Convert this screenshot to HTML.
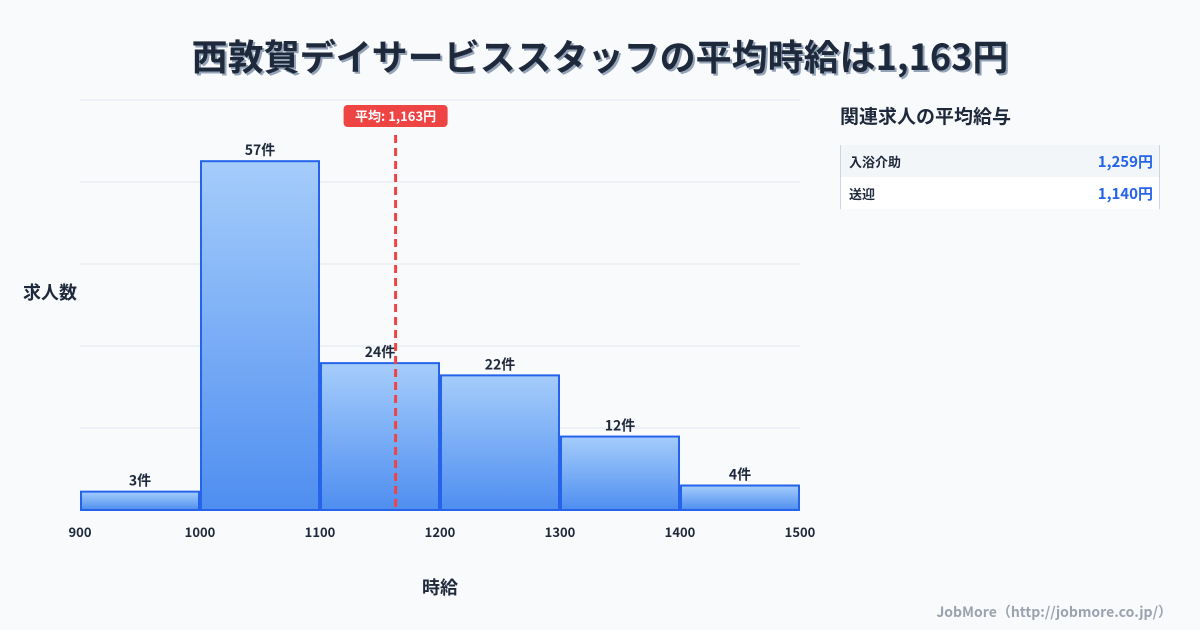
<!DOCTYPE html>
<html><head><meta charset="utf-8">
<style>
body{margin:0;width:1200px;height:630px;background:#f8fafc;font-family:"Liberation Sans","Noto Sans CJK JP",sans-serif;overflow:hidden;position:relative}
#title{position:absolute;top:29px;left:0;width:1200px;text-align:center;font-family:"Noto Sans CJK JP",sans-serif;font-weight:700;font-size:36px;color:#1e293b;text-shadow:2px 2px 0 #94a3b8}
#panel{position:absolute;left:840px;top:100px;width:320px;font-family:"Noto Sans CJK JP",sans-serif}
#panel h3{margin:0;font-size:19px;font-weight:700;color:#1e293b;line-height:32px}
.tbl{margin-top:13px;border-left:1px solid #cbd5e1;border-right:1px solid #cbd5e1}
.row{height:32px;display:flex;justify-content:space-between;align-items:center;padding:0 6px 0 8px;font-size:13px;font-weight:700;color:#1e293b}
.row:nth-child(1){background:#f3f6f9}.row:nth-child(2){background:#fff}
.row span:last-child{color:#2563eb;font-size:15px}
#foot{position:absolute;right:28px;top:602px;font-size:14px;font-weight:700;color:#9ca3af;font-family:"Noto Sans CJK JP",sans-serif}
</style></head><body>
<div id="title">西敦賀デイサービススタッフの平均時給は1,163円</div>
<svg id="chart" width="1200" height="630" style="position:absolute;left:0;top:0">
<defs><linearGradient id="g" x1="0" y1="0" x2="0" y2="1"><stop offset="0" stop-color="#a5cdfb"/><stop offset="1" stop-color="#4f8ef0"/></linearGradient></defs>
</svg>
<div id="panel">
<h3>関連求人の平均給与</h3>
<div class="tbl">
<div class="row"><span>入浴介助</span><span>1,259円</span></div>
<div class="row"><span>送迎</span><span>1,140円</span></div>
</div></div>
<div id="foot">JobMore（http://jobmore.co.jp/）</div>
<script>
const binStarts=[900,1000,1100,1200,1300,1400];
const counts=[3,57,24,22,12,4];
const xTicks=[900,1000,1100,1200,1300,1400,1500];
const meanValue=1163;
const meanLabel="平均: 1,163円";
const NS="http://www.w3.org/2000/svg";
const svg=document.getElementById('chart');
const X0=80,X1=800,Y0=510,Y1=100,xmin=900,xmax=1500,ymax=67;
const xs=v=>X0+(v-xmin)/(xmax-xmin)*(X1-X0);
const ys=v=>Y0-v/ymax*(Y0-Y1);
function mk(t,a,txt){const e=document.createElementNS(NS,t);for(const k in a)e.setAttribute(k,a[k]);if(txt!=null)e.textContent=txt;svg.appendChild(e);return e;}
for(let i=0;i<=5;i++){const y=Y0-i*(Y0-Y1)/5;
const l=mk('line',{x1:X0,x2:X1,y1:y,y2:y,stroke:'#e2e8f0','stroke-width':1});

}
binStarts.forEach((b,i)=>{const x=xs(b)+1,w=xs(b+100)-xs(b)-2,y=ys(counts[i]);
const r=mk('rect',{x:x,y:y,width:w,height:Y0-y,fill:'url(#g)',stroke:'#2563eb','stroke-width':2});


const t=mk('text',{x:x+w/2,y:y-6,'text-anchor':'middle','font-size':14,'font-weight':700,fill:'#1e293b','font-family':'Noto Sans CJK JP,sans-serif'},counts[i]+'件');

});
xTicks.forEach(v=>{const t=mk('text',{x:xs(v),y:537,'text-anchor':'middle','font-size':13,'font-weight':700,fill:'#1e293b','font-family':'Noto Sans CJK JP,sans-serif'},v);

});
const mx=xs(meanValue);
const ml=mk('line',{x1:mx,x2:mx,y1:135,y2:Y0,stroke:'#ef4444','stroke-width':3,'stroke-dasharray':'8,5'});


const mb=mk('rect',{x:mx-52,y:105,width:104,height:22,rx:4,fill:'#ef4444'});


const mt=mk('text',{x:mx,y:121,'text-anchor':'middle','font-size':13,'font-weight':700,fill:'#fff','font-family':'Noto Sans CJK JP,sans-serif'},meanLabel);


const xt=mk('text',{x:440,y:594,'text-anchor':'middle','font-size':18,'font-weight':700,fill:'#1e293b','font-family':'Noto Sans CJK JP,sans-serif'},'時給');


const yt=mk('text',{x:50,y:299,'text-anchor':'middle','font-size':18,'font-weight':700,fill:'#1e293b','font-family':'Noto Sans CJK JP,sans-serif'},'求人数');


</script>
</body></html>
